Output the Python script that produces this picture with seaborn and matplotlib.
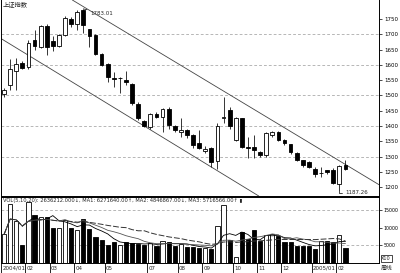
import numpy as np
import pandas as pd
import matplotlib
matplotlib.use("Agg")
import matplotlib.pyplot as plt
import matplotlib.transforms as mtransforms
import seaborn as sns

# ---------------- data (weekly bars, Shanghai Composite) ----------------
opens = [1505, 1535, 1580, 1606, 1592, 1681, 1660, 1728, 1678, 1662, 1698, 1750, 1734, 1779,
         1717, 1698, 1636, 1603, 1557, 1556, 1551, 1538, 1472, 1417, 1397, 1440, 1430, 1456,
         1400, 1381, 1387, 1371, 1345, 1320, 1328, 1285, 1425, 1453, 1355, 1426, 1332, 1332,
         1315, 1306, 1370, 1381, 1355, 1340, 1312, 1289, 1283, 1260, 1246, 1255, 1257, 1210, 1273]
highs = [1525, 1620, 1623, 1612, 1680, 1714, 1730, 1732, 1695, 1700, 1760, 1757, 1779, 1783.01,
         1717, 1700, 1639, 1606, 1577, 1560, 1580, 1540, 1480, 1420, 1442, 1445, 1460, 1462,
         1404, 1426, 1390, 1375, 1387, 1335, 1332, 1410, 1496, 1462, 1430, 1428, 1364, 1370,
         1320, 1380, 1384, 1384, 1358, 1342, 1315, 1290, 1285, 1266, 1266, 1258, 1262, 1273, 1289]
lows = [1495, 1518, 1518, 1585, 1585, 1649, 1655, 1632, 1645, 1658, 1695, 1725, 1714, 1704,
        1658, 1632, 1596, 1544, 1528, 1508, 1534, 1470, 1420, 1397, 1390, 1425, 1381, 1390,
        1380, 1364, 1360, 1330, 1325, 1312, 1266, 1259, 1410, 1390, 1350, 1330, 1296, 1296,
        1300, 1299, 1366, 1350, 1338, 1310, 1285, 1266, 1262, 1235, 1235, 1245, 1210, 1187.26, 1255]
closes = [1518, 1585, 1603, 1590, 1670, 1662, 1728, 1660, 1662, 1698, 1753, 1734, 1773, 1730,
          1694, 1636, 1600, 1560, 1555, 1557, 1544, 1475, 1426, 1400, 1440, 1430, 1456, 1404,
          1387, 1387, 1371, 1338, 1330, 1325, 1283, 1400, 1430, 1400, 1426, 1332, 1330, 1322,
          1306, 1377, 1381, 1355, 1345, 1315, 1289, 1273, 1266, 1243, 1247, 1250, 1214, 1270, 1260]
volumes = [8050, 16700, 11750, 5100, 17200, 13600, 13000, 13000, 10000, 10000, 12000, 10000,
           9250, 12500, 9700, 7200, 6500, 5100, 5800, 5100, 5800, 5500, 5300, 5100, 5500, 4800,
           6200, 6000, 4900, 5300, 4400, 4400, 4200, 4200, 3900, 10300, 16400, 6500, 1800, 8600,
           6900, 9300, 6200, 7900, 8050, 7700, 5800, 5800, 4900, 4900, 4700, 3900, 6200, 6200,
           6000, 7900, 4200]

month_labels = ["2004/01", "02", "03", "04", "05", "07", "08", "09", "10", "11", "12", "2005/01", "02"]
month_start = [0, 4, 8, 12, 17, 24, 29, 33, 38, 42, 46, 51, 55]

price_ticks = [1200, 1250, 1300, 1350, 1400, 1450, 1500, 1550, 1600, 1650, 1700, 1750]
price_grid = [1300, 1400, 1500, 1600, 1700]
vol_ticks = [5000, 10000, 15000]

upper_channel = [(11.2, 1812.0), (60.8, 1217.0)]
lower_channel = [(-0.66, 1688.0), (41.5, 1175.0)]

legend_text = ("VOL(5,10,20): 2636212.000\u2193, MA1: 6271640.00\u2191, "
               "MA2: 4846867.00\u2193, MA3: 5716566.00\u2191 \u25ae")

# ---------------- figure ----------------
sns.set_theme(style="white")
plt.rcParams['font.family'] = ['DejaVu Sans', 'Noto Sans CJK SC']

df = pd.DataFrame({"o": opens, "h": highs, "l": lows, "c": closes, "v": volumes})
df["i"] = np.arange(len(df))
df["up"] = df["c"] >= df["o"]
df["ma5"] = df["v"].rolling(5, min_periods=1).mean()
df["ma10"] = df["v"].rolling(10, min_periods=1).mean()
df["ma20"] = df["v"].rolling(20, min_periods=1).mean()

fig = plt.figure(figsize=(4.0, 2.73), dpi=100)
ax = fig.add_axes([0.0025, 0.282, 0.945, 0.718])
axv = fig.add_axes([0.0025, 0.0366, 0.945, 0.2418], sharex=ax)

colors = np.where(df["up"], "white", "black")

# candles
ax.vlines(df["i"], df["l"], df["h"], color="black", lw=0.55, zorder=2)
body_bot = np.minimum(df["o"], df["c"])
body_h = np.maximum(np.abs(df["c"] - df["o"]), 1.5)
ax.bar(df["i"], body_h, bottom=body_bot, width=0.62, color=colors,
       edgecolor="black", linewidth=0.6, zorder=3)

for lvl in price_grid:
    ax.axhline(lvl, color="#9a9a9a", lw=0.5, ls=(0, (4, 3)), zorder=0)

ax.axline(upper_channel[0], upper_channel[1], color="#444444", lw=0.6, zorder=1)
ax.axline(lower_channel[0], lower_channel[1], color="#444444", lw=0.6, zorder=1)

ax.annotate("1783.01", xy=(13, highs[13]), xytext=(5, -3), textcoords="offset points",
            fontsize=4, va="center", ha="left",
            arrowprops=dict(arrowstyle="-", lw=0.5, color="black", shrinkA=0, shrinkB=0))
ax.annotate("1187.26", xy=(55, lows[55]), xytext=(4, -1), textcoords="offset points",
            fontsize=4, va="center", ha="left",
            arrowprops=dict(arrowstyle="-", lw=0.5, color="black", shrinkA=0, shrinkB=0,
                            connectionstyle="angle,angleA=0,angleB=90,rad=0"))

ax.text(0.005, 0.995, "上证指数", transform=ax.transAxes, va="top", ha="left",
        fontsize=4.5, family=["Noto Sans CJK SC", "DejaVu Sans"])

ax.set_xlim(-0.49, 61.5)
ax.set_ylim(1171.6, 1812)
ax.yaxis.tick_right()
ax.set_yticks(price_ticks)
ax.set_yticklabels([str(t) for t in price_ticks])
ax.tick_params(axis="y", labelsize=4, length=2.5, width=0.5, pad=1.5, direction="out",
               colors="black", right=True)
ax.tick_params(axis="x", bottom=False, labelbottom=False)
for s in ["left", "right", "bottom"]:
    ax.spines[s].set_visible(True)
    ax.spines[s].set_color("black")
    ax.spines[s].set_linewidth(0.7)
ax.spines["top"].set_visible(False)
ax.grid(False)

# volume
axv.bar(df["i"], df["v"], width=0.68, color=colors, edgecolor="black", linewidth=0.6, zorder=3)
sns.lineplot(x=df["i"], y=df["ma5"], ax=axv, color="black", lw=0.6, zorder=4)
sns.lineplot(x=df["i"], y=df["ma10"], ax=axv, color="#555555", lw=0.6, zorder=4)
sns.lineplot(x=df["i"], y=df["ma20"], ax=axv, color="#333333", lw=0.7, ls=(0, (6, 2)), zorder=4)
for lvl in [5000, 15000]:
    axv.axhline(lvl, color="#9a9a9a", lw=0.5, ls=(0, (4, 3)), zorder=0)

axv.text(0.004, 0.985, legend_text, transform=axv.transAxes, va="top", ha="left", fontsize=3.7)
axv.text(1.006, 0.03, "X10", transform=axv.transAxes, va="bottom", ha="left", fontsize=3.6,
         bbox=dict(boxstyle="square,pad=0.15", fc="white", ec="black", lw=0.5))

axv.set_ylim(0, 18600)
axv.yaxis.tick_right()
axv.set_yticks(vol_ticks)
axv.set_yticklabels([str(t) for t in vol_ticks])
axv.tick_params(axis="y", labelsize=3.4, length=2.0, width=0.5, pad=1.0, direction="out",
                colors="black", right=True)
axv.set_xticks([m - 0.5 for m in month_start])
axv.tick_params(axis="x", direction="out", length=9, width=0.6, labelbottom=False,
                bottom=True, colors="black")
axv.set_xlabel("")
axv.set_ylabel("")
for s in ["left", "right", "bottom", "top"]:
    axv.spines[s].set_visible(True)
    axv.spines[s].set_color("black")
    axv.spines[s].set_linewidth(0.7)
axv.grid(False)

trans = mtransforms.blended_transform_factory(axv.transData, axv.transAxes)
for m, lab in zip(month_start, month_labels):
    axv.text(m - 0.3, -0.04, lab, transform=trans, va="top", ha="left", fontsize=4)
axv.text(1.006, -0.04, "周线", transform=axv.transAxes, va="top", ha="left",
         fontsize=4.2, family=["Noto Sans CJK SC", "DejaVu Sans"])

fig.savefig("out.png", dpi=100)
